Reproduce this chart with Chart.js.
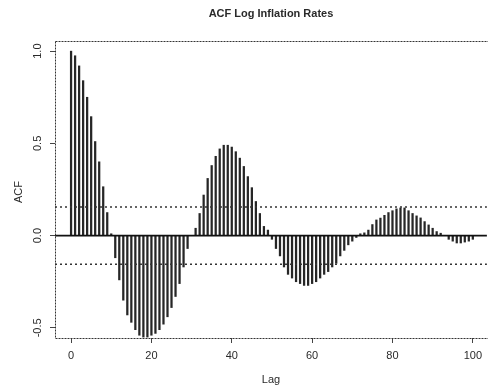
<!DOCTYPE html>
<html>
<head>
<meta charset="utf-8">
<script src="https://cdn.jsdelivr.net/npm/chart.js@4.4.1/dist/chart.umd.min.js"></script>
<style>
html,body{margin:0;padding:0;background:#fff;}
#wrap{width:488px;height:389px;position:relative;}
</style>
</head>
<body>
<div id="wrap"><canvas id="c" width="488" height="389"></canvas></div>
<script>
// ---- data ----
const chartTitle = "ACF Log Inflation Rates";
const xTitle = "Lag";
const yTitle = "ACF";
const lags = [0,1,2,3,4,5,6,7,8,9,10,11,12,13,14,15,16,17,18,19,20,21,22,23,24,25,26,27,28,29,30,31,32,33,34,35,36,37,38,39,40,41,42,43,44,45,46,47,48,49,50,51,52,53,54,55,56,57,58,59,60,61,62,63,64,65,66,67,68,69,70,71,72,73,74,75,76,77,78,79,80,81,82,83,84,85,86,87,88,89,90,91,92,93,94,95,96,97,98,99,100];
const acfValues = [
 1.00, 0.975, 0.92, 0.84, 0.75, 0.645, 0.51, 0.40, 0.265, 0.125,
 0.01, -0.12, -0.24, -0.35, -0.43, -0.47, -0.51, -0.54, -0.55, -0.55,
 -0.54, -0.53, -0.51, -0.48, -0.44, -0.39, -0.33, -0.26, -0.17, -0.07,
 0.00, 0.04, 0.12, 0.22, 0.31, 0.38, 0.43, 0.47, 0.49, 0.49,
 0.48, 0.455, 0.42, 0.375, 0.32, 0.26, 0.185, 0.12, 0.05, 0.03,
 -0.02, -0.07, -0.11, -0.17, -0.21, -0.23, -0.25, -0.26, -0.27, -0.27,
 -0.26, -0.25, -0.23, -0.21, -0.195, -0.17, -0.15, -0.11, -0.08, -0.05,
 -0.03, -0.01, 0.01, 0.015, 0.03, 0.06, 0.085, 0.095, 0.11, 0.125,
 0.135, 0.145, 0.15, 0.15, 0.135, 0.12, 0.107, 0.096, 0.076, 0.058,
 0.04, 0.022, 0.013, 0.0, -0.02, -0.03, -0.04, -0.04, -0.035, -0.03,
 -0.02
];
const ciLevel = 0.155;
const xTicks = [0,20,40,60,80,100];
const xTickLabels = ["0","20","40","60","80","100"];
const yTicks = [-0.5,0.0,0.5,1.0];
const yTickLabels = ["-0.5","0.0","0.5","1.0"];
const xRange = [-4, 103.5];
const yRange = [-0.555, 1.055];

// ---- build datasets ----
const barData = lags.map((l,i)=>({x:l, y:acfValues[i]}));
const hLine = v => [{x:xRange[0], y:v},{x:xRange[1], y:v}];

const FONT = "'Liberation Sans', Arial, Helvetica, sans-serif";
const INK = '#2a2a2a';

const decorPlugin = {
  id:'decor',
  afterDraw(chart){
    const {ctx, chartArea:a, scales} = chart;
    ctx.save();
    // dotted box (right side falls outside the picture)
    ctx.strokeStyle = '#333';
    ctx.lineWidth = 1;
    ctx.setLineDash([2,1]);
    const L = Math.round(a.left)+0.5, T = Math.round(a.top)+0.5, B = Math.round(a.bottom)+0.5, R = Math.round(a.right)+1;
    ctx.beginPath(); ctx.moveTo(L, T); ctx.lineTo(R, T); ctx.stroke();
    ctx.beginPath(); ctx.moveTo(L, T); ctx.lineTo(L, B); ctx.stroke();
    ctx.beginPath(); ctx.moveTo(L, B); ctx.lineTo(R, B); ctx.stroke();
    ctx.setLineDash([]);
    // title
    ctx.fillStyle = INK;
    ctx.font = "bold 11px " + FONT;
    ctx.textAlign = 'center';
    ctx.textBaseline = 'middle';
    ctx.fillText(chartTitle, 271, 14);
    // x title
    ctx.font = "11px " + FONT;
    ctx.fillText(xTitle, 271, 380);
    // y tick labels rotated
    yTicks.forEach((v,i)=>{
      const py = scales.y.getPixelForValue(v);
      ctx.save();
      ctx.translate(38, py);
      ctx.rotate(-Math.PI/2);
      ctx.fillText(yTickLabels[i], 0, 0);
      ctx.restore();
    });
    // y title
    ctx.save();
    ctx.translate(19, 192);
    ctx.rotate(-Math.PI/2);
    ctx.fillText(yTitle, 0, 0);
    ctx.restore();
    ctx.restore();
  }
};

new Chart(document.getElementById('c'), {
  type:'bar',
  data:{
    datasets:[
      {type:'bar', data:barData, backgroundColor:'#262626', barThickness:1.6, order:2},
      {type:'line', data:hLine(0), borderColor:'#111', borderWidth:1.6, pointRadius:0, order:1},
      {type:'line', data:hLine(ciLevel), borderColor:'#333', borderWidth:1.4, borderDash:[2,3], pointRadius:0, order:1},
      {type:'line', data:hLine(-ciLevel), borderColor:'#333', borderWidth:1.4, borderDash:[2,3], pointRadius:0, order:1}
    ]
  },
  options:{
    responsive:false,
    animation:false,
    layout:{padding:{top:41, right:0, left:0, bottom:0}},
    plugins:{legend:{display:false}, tooltip:{enabled:false}, title:{display:false}},
    scales:{
      x:{
        type:'linear', min:xRange[0], max:xRange[1], offset:false,
        afterBuildTicks(s){ s.ticks = xTicks.map(v=>({value:v})); },
        afterFit(s){ s.height = 51; },
        ticks:{
          callback:(v)=>{ const i = xTicks.indexOf(v); return i>=0 ? xTickLabels[i] : ''; },
          color:INK, font:{family:FONT, size:11}, padding:6, maxRotation:0, autoSkip:false
        },
        grid:{offset:false, drawOnChartArea:false, drawTicks:true, tickLength:5, color:'#444'},
        border:{display:false}
      },
      y:{
        type:'linear', min:yRange[0], max:yRange[1],
        afterBuildTicks(s){ s.ticks = yTicks.map(v=>({value:v})); },
        afterFit(s){ s.width = 55; },
        ticks:{callback:()=>'', font:{family:FONT, size:11}},
        grid:{drawOnChartArea:false, drawTicks:true, tickLength:5, color:'#444'},
        border:{display:false}
      }
    }
  },
  plugins:[decorPlugin]
});
</script>
</body>
</html>
